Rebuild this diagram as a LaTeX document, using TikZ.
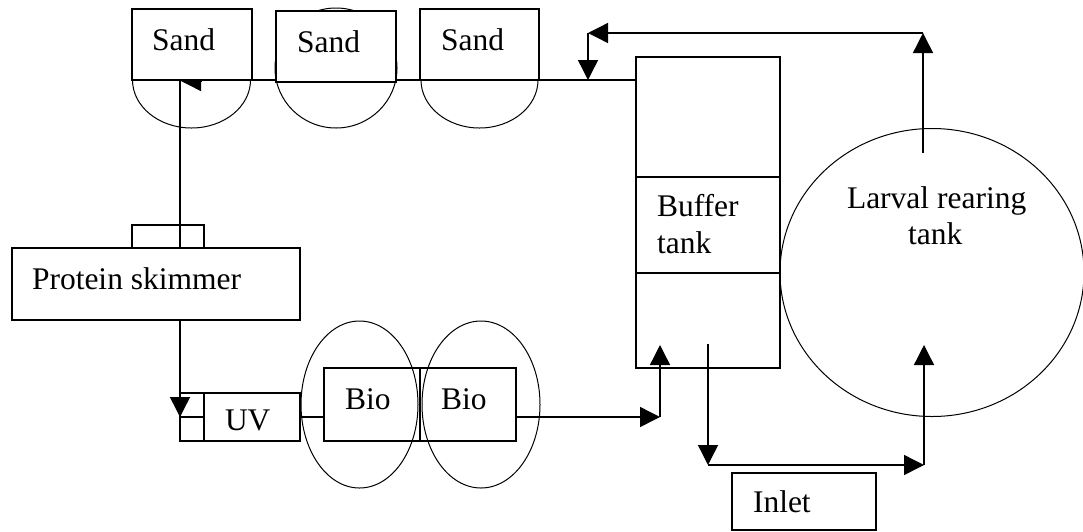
\documentclass[tikz,border=0pt]{standalone}
\usepackage{fontspec}
\setmainfont{Liberation Serif}
\usetikzlibrary{arrows.meta,shapes.geometric}
\pgfdeclarelayer{bg}
\pgfsetlayers{bg,main}
\tikzset{
  box/.style={draw, rectangle, line width=1.4pt, inner sep=0pt, outer sep=0pt, anchor=north west},
  oval/.style={draw, ellipse, line width=1pt, inner sep=0pt, outer sep=0pt},
  lbl/.style={font=\fontsize{31.5}{36}\selectfont, inner sep=0pt, outer sep=0pt, anchor=base west},
  pipe/.style={line width=1.4pt},
  flow/.style={line width=1.4pt, -{Triangle[width=20pt,length=20pt]}},
}
\begin{document}
\begin{tikzpicture}[x=1pt,y=-1pt]
\useasboundingbox (0,0) rectangle (1083,531);
% sand filters
\node[oval, minimum width=118pt, minimum height=96pt] (e1) at (191.5,80) {};
\node[oval, minimum width=122pt, minimum height=120pt] (e2) at (336,68) {};
\node[oval, minimum width=117pt, minimum height=96pt] (e3) at (479.5,80) {};
\node[box, fill=white, minimum width=120pt, minimum height=71pt] (sand1) at (132,9) {};
\node[box, fill=white, minimum width=120pt, minimum height=71pt] (sand2) at (276,11) {};
\node[box, fill=white, minimum width=119pt, minimum height=71pt] (sand3) at (420,9) {};
% buffer tank
\node[box, minimum width=144pt, minimum height=120pt] (buf1) at (636,57) {};
\node[box, minimum width=144pt, minimum height=96pt] (buf2) at (636,177) {};
\node[box, minimum width=144pt, minimum height=95pt] (buf3) at (636,273) {};
% larval rearing tank
\node[oval, minimum width=304pt, minimum height=288pt] (larval) at (932,272.5) {};
% protein skimmer
\node[box, minimum width=288pt, minimum height=72pt] (skim) at (12,248) {};
\node[box, minimum width=72pt, minimum height=23pt] (skimtop) at (132,225) {};
% UV
\node[box, minimum width=120pt, minimum height=48pt] (uv) at (180,393) {};
\node[box, minimum width=24pt, minimum height=24pt] (uvp1) at (180,393) {};
\node[box, minimum width=24pt, minimum height=24pt] (uvp2) at (180,417) {};
% bio filters
\node[oval, minimum width=117pt, minimum height=167pt] (bioe1) at (359.5,404.5) {};
\node[oval, minimum width=118pt, minimum height=167pt] (bioe2) at (481,404.5) {};
\node[box, minimum width=96pt, minimum height=73pt] (bio1) at (324,368) {};
\node[box, minimum width=96pt, minimum height=73pt] (bio2) at (420,368) {};
% inlet
\node[box, minimum width=144pt, minimum height=57pt] (inlet) at (732,473) {};
% labels
\node[lbl] (t1) at (152,50) {Sand};
\node[lbl] (t2) at (297,52) {Sand};
\node[lbl] (t3) at (441,50) {Sand};
\node[lbl] (tbuf1) at (657,216.7) {Buffer};
\node[lbl] (tbuf2) at (657,253.3) {tank};
\node[lbl] (tlar1) at (847,208.3) {Larval rearing};
\node[lbl] (tlar2) at (908,244) {tank};
\node[lbl] (tskim) at (32,289) {Protein skimmer};
\node[lbl] (tuv) at (225,430.7) {UV};
\node[lbl] (tbio1) at (345,409.5) {Bio};
\node[lbl] (tbio2) at (441,409.5) {Bio};
\node[lbl] (tin) at (753,512.7) {Inlet};
% junctions
\coordinate (j1) at (180,80);
\coordinate (a1) at (201,81);
\coordinate (a2) at (181,81);
\coordinate (k1) at (660,417);
\coordinate (k2) at (660,345);
\coordinate (m1) at (708,344);
\coordinate (m2) at (708,465);
\coordinate (m3) at (924,465);
\coordinate (m4) at (924,345);
\coordinate (r1) at (923,153);
\coordinate (r2) at (923,33);
\coordinate (r3) at (588,33);
\coordinate (r4) at (588,80);
\begin{pgfonlayer}{bg}
\fill[white] (0,0) rectangle (1083,531);
\draw[pipe] (sand1.south east) -- (sand1.south east -| buf1.west);
\draw[flow] (a1) -- (a2);
\draw[pipe] (skim.north -| j1) -- (j1);
\draw[flow] (skim.south -| uvp1.west) -- (uvp1.south west);
\draw[pipe] (uv.east) -- (uv.east -| bio1.west);
\draw[flow] (uv.east -| bio2.east) -- (k1);
\draw[flow] (k1) -- (k2);
\draw[flow] (m1) -- (m2);
\draw[flow] (m2) -- (m3);
\draw[flow] (m3) -- (m4);
\draw[flow] (r1) -- (r2);
\draw[flow] (r2) -- (r3);
\draw[flow] (r3) -- (r4);
\end{pgfonlayer}
\end{tikzpicture}
\end{document}
